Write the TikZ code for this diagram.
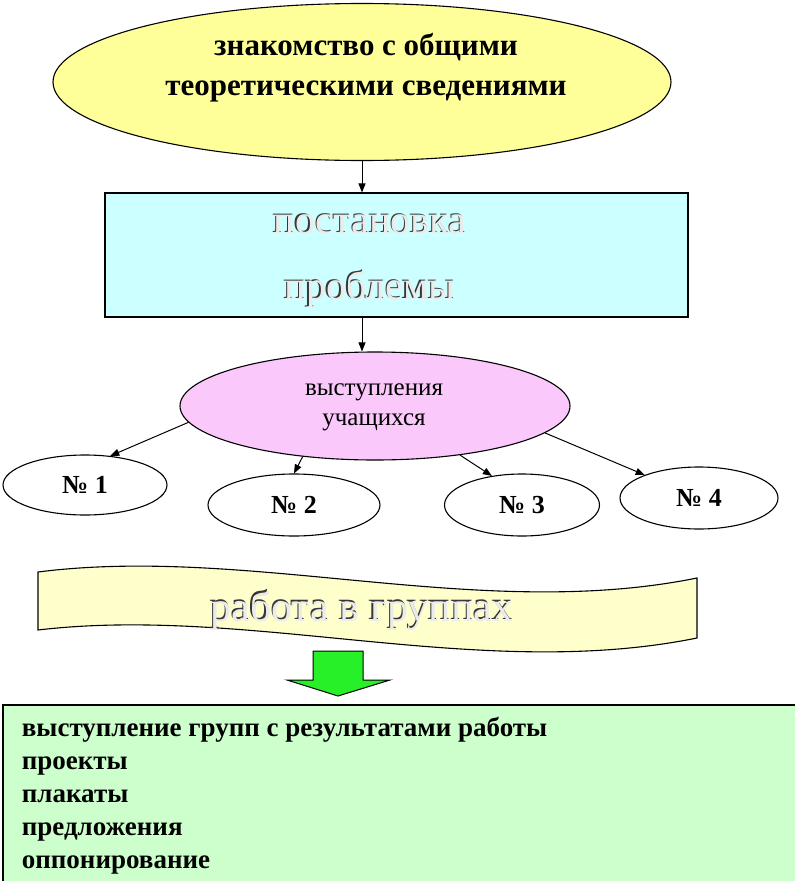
\documentclass[tikz,border=0pt]{standalone}
\usepackage{fontspec}
\setmainfont{Liberation Serif}
\usetikzlibrary{shapes.geometric,arrows.meta}
\definecolor{yellowfill}{RGB}{255,255,153}
\definecolor{cyanfill}{RGB}{204,255,255}
\definecolor{pinkfill}{RGB}{250,200,250}
\definecolor{bannerfill}{RGB}{255,255,204}
\definecolor{arrowgreen}{RGB}{40,240,40}
\definecolor{greenbox}{RGB}{204,255,204}
\definecolor{engdark}{RGB}{55,55,55}
\definecolor{englight}{RGB}{235,235,235}
\newcommand{\engrave}[1]{\makebox[0pt][l]{\kern-1.4pt\raisebox{1.2pt}{\textcolor{engdark}{#1}}}\textcolor{englight}{#1}}
\begin{document}
\begin{tikzpicture}[x=1pt,y=-1pt,line width=1.1pt,
  arr/.style={-{Triangle[length=9pt,width=7pt]},line width=1pt},
  oval/.style={ellipse,draw=black,inner sep=0pt},
  numoval/.style={oval,fill=white,font=\bfseries\fontsize{26}{30}\selectfont}]
\useasboundingbox (0,0) rectangle (795,881);
\fill[white] (0,0) rectangle (795,881);

\node[oval,fill=yellowfill,minimum width=618pt,minimum height=157pt] (top) at (362,82) {};
\node[font=\bfseries\fontsize{31}{40}\selectfont,align=center] (toptext) at (366,68) {знакомство с общими\\теоретическими сведениями};

\node[draw=black,fill=cyanfill,minimum width=583pt,minimum height=124pt,inner sep=0pt] (box) at (396.5,255) {};
\node[font=\fontsize{40}{66}\selectfont,align=center] (boxtext) at (370,261) {\engrave{постановка}\\\engrave{проблемы}};

\node[oval,fill=pinkfill,minimum width=390pt,minimum height=108pt] (pink) at (375,406) {};
\node[font=\fontsize{25}{30}\selectfont,align=center] (pinktext) at (374,407) {выступления\\учащихся};

\node[numoval,minimum width=164pt,minimum height=60pt] (n1) at (85,485) {№ 1};
\node[numoval,minimum width=172pt,minimum height=62pt] (n2) at (294,505) {№ 2};
\node[numoval,minimum width=155pt,minimum height=62pt] (n3) at (522,505) {№ 3};
\node[numoval,minimum width=158pt,minimum height=62pt] (n4) at (699,498) {№ 4};

\draw[arr] (top.south) -- (top.south |- box.north);
\draw[arr] (top.south |- box.south) -- (top.south |- pink.north);
\draw[arr] (pink.185) -- (n1.49);
\draw[arr] (pink.215) -- (n2.north);
\draw[arr] (pink.330) -- (n3.136);
\draw[arr] (pink.351) -- (n4.157);

\draw[fill=bannerfill] (38,572) .. controls (250,545) and (480,622) .. (697,578) -- (697,638) .. controls (480,682) and (250,605) .. (38,630) -- cycle;
\node[font=\fontsize{42}{50}\selectfont] (bannertext) at (362,610) {\engrave{работа в группах}};

\draw[fill=arrowgreen,line width=1pt] (313,651) -- (363,651) -- (363,680) -- (390,680) -- (338,696) -- (287,680) -- (313,680) -- cycle;

\draw[fill=greenbox] (3,705) rectangle (810,900);
\node[font=\bfseries\fontsize{27}{33}\selectfont,align=left,anchor=west] (list) at (18,796) {выступление групп с результатами работы\\проекты\\плакаты\\предложения\\оппонирование};
\end{tikzpicture}
\end{document}
